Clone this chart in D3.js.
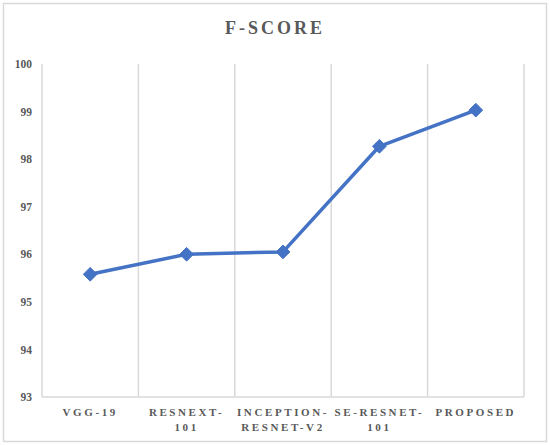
<!DOCTYPE html>
<html>
<head>
<meta charset="utf-8">
<script src="https://cdn.jsdelivr.net/npm/d3@7"></script>
<style>
  body { margin: 0; background: #fff; }
  svg text { font-family: "Liberation Serif", "Times New Roman", serif; font-weight: bold; fill: #595959; }
</style>
</head>
<body>
<div id="chart"></div>
<script>
// data
var models = ["VGG-19", "RESNEXT-101", "INCEPTION-RESNET-V2", "SE-RESNET-101", "PROPOSED"];
var modelLines = [["VGG-19"], ["RESNEXT-", "101"], ["INCEPTION-", "RESNET-V2"], ["SE-RESNET-", "101"], ["PROPOSED"]];
var fScores = [95.58, 96.0, 96.05, 98.27, 99.03];
var yTicks = [93, 94, 95, 96, 97, 98, 99, 100];

var svgWidth = 550;
var svgHeight = 445;
var margin = { top: 64, right: 26, bottom: 48, left: 42 };
var width = svgWidth - margin.left - margin.right;
var height = svgHeight - margin.top - margin.bottom;

var svg = d3.select("#chart")
  .append("svg")
  .attr("width", svgWidth)
  .attr("height", svgHeight);

// outer frame
svg.append("rect")
  .attr("x", 3.5)
  .attr("y", 3.5)
  .attr("width", 543)
  .attr("height", 438)
  .attr("fill", "#fff")
  .attr("stroke", "#d9d9d9")
  .attr("stroke-width", 1.5);

svg.append("text")
  .attr("x", 275)
  .attr("y", 34)
  .attr("text-anchor", "middle")
  .attr("font-size", 18)
  .attr("letter-spacing", 3)
  .text("F-SCORE");

var chartGroup = svg.append("g")
  .attr("transform", `translate(${margin.left}, ${margin.top})`);

var xScale = d3.scaleBand()
  .domain(models)
  .range([0, width]);

var yScale = d3.scaleLinear()
  .domain([93, 100])
  .range([height, 0]);

// vertical grid lines at category boundaries
var bounds = models.map(d => xScale(d)).concat([width]);
chartGroup.append("g")
  .selectAll("line")
  .data(bounds)
  .enter()
  .append("line")
  .attr("x1", d => d)
  .attr("x2", d => d)
  .attr("y1", 0)
  .attr("y2", height)
  .attr("stroke", "#d9d9d9")
  .attr("stroke-width", 1.5);

// bottom axis line
chartGroup.append("line")
  .attr("x1", 0)
  .attr("x2", width)
  .attr("y1", height)
  .attr("y2", height)
  .attr("stroke", "#d9d9d9")
  .attr("stroke-width", 1.5);

// y axis labels
var leftAxis = d3.axisLeft(yScale).tickValues(yTicks).tickFormat(d3.format("d")).tickSize(0).tickPadding(10);
var yAxis = chartGroup.append("g").call(leftAxis)
  .attr("font-family", null)
  .attr("font-size", null);
yAxis.select(".domain").remove();
yAxis.selectAll("text")
  .attr("font-size", 11.5)
  .attr("fill", "#595959");

// x labels, wrapped like the original
var xLabels = chartGroup.append("g")
  .selectAll("text")
  .data(models)
  .enter()
  .append("text")
  .attr("x", d => xScale(d) + xScale.bandwidth() / 2)
  .attr("y", height + 19)
  .attr("text-anchor", "middle")
  .attr("font-size", 11)
  .attr("letter-spacing", 2.6);

xLabels.each(function(d, i) {
  var t = d3.select(this);
  modelLines[i].forEach(function(line, j) {
    t.append("tspan")
      .attr("x", xScale(d) + xScale.bandwidth() / 2)
      .attr("dy", j === 0 ? 0 : 14.5)
      .text(line);
  });
});

var cx = (d, i) => xScale(models[i]) + xScale.bandwidth() / 2;

var line = d3.line()
  .x((d, i) => cx(d, i))
  .y(d => yScale(d));

chartGroup.append("path")
  .datum(fScores)
  .attr("d", line)
  .attr("fill", "none")
  .attr("stroke", "#4472c4")
  .attr("stroke-width", 3.5)
  .attr("stroke-linejoin", "round");

chartGroup.append("g")
  .selectAll("path")
  .data(fScores)
  .enter()
  .append("path")
  .attr("d", d3.symbol().type(d3.symbolDiamond2).size(120))
  .attr("transform", (d, i) => `translate(${cx(d, i)}, ${yScale(d)})`)
  .attr("fill", "#4472c4")
  .attr("stroke", "#4472c4")
  .attr("stroke-width", 1);
</script>
</body>
</html>
